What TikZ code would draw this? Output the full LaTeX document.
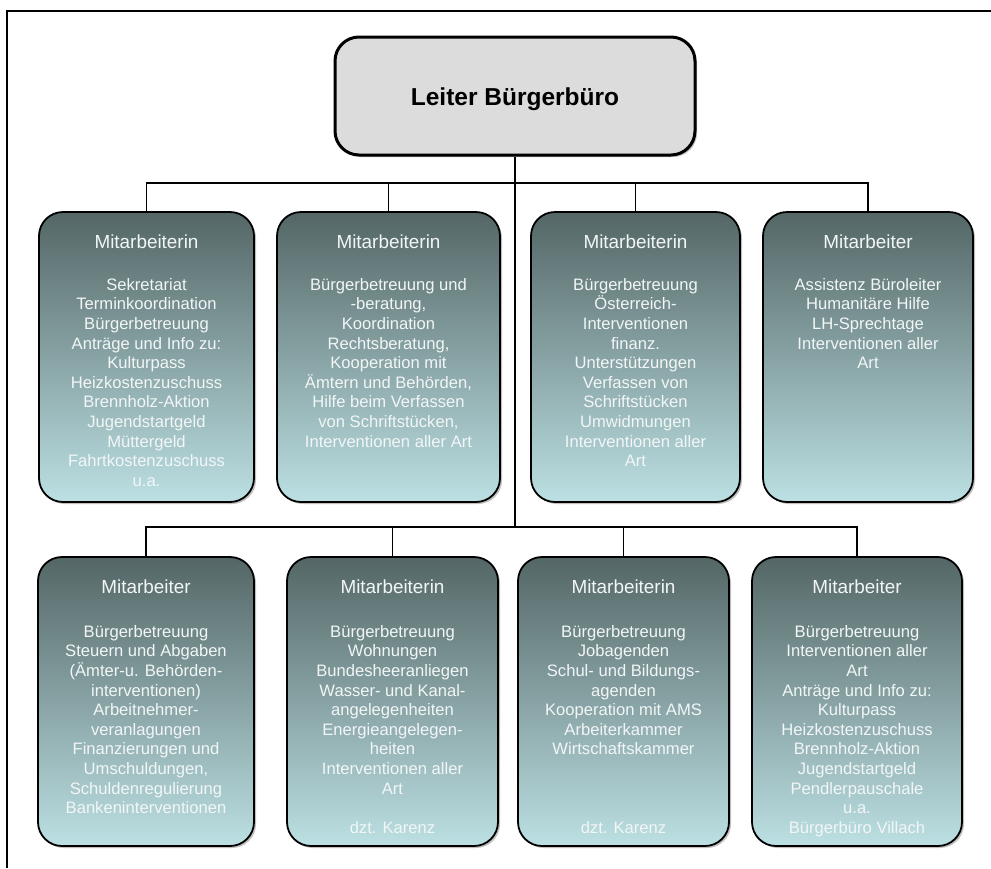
\documentclass[tikz,border=0pt]{standalone}
\usepackage{fontspec}
\setmainfont{Liberation Sans}
\usetikzlibrary{shadows}
\definecolor{boxtop}{RGB}{84,102,102}
\definecolor{boxbot}{RGB}{188,224,227}
\definecolor{topfill}{RGB}{220,220,220}
\definecolor{txt}{RGB}{242,246,246}
\tikzset{
  staffbox/.style={draw=black, line width=1.8pt, rounded corners=24pt,
    shading=axis, top color=boxtop, bottom color=boxbot,
    minimum height=289pt, inner sep=0pt,
    drop shadow={shadow xshift=2pt, shadow yshift=-2pt, opacity=0.25, fill=black}},
  headbox/.style={draw=black, line width=3pt, rounded corners=24pt, fill=topfill,
    minimum width=360pt, minimum height=118pt, inner sep=0pt,
    drop shadow={shadow xshift=2pt, shadow yshift=-2pt, opacity=0.25, fill=black}},
  role/.style={anchor=base, text=txt, inner sep=0pt, font=\fontsize{18.9}{22}\selectfont},
  duties/.style={anchor=north, text=txt, inner sep=0pt, align=center,
    font=\fontsize{16.6}{19.6}\selectfont, execute at begin node=\strut},
  conn/.style={draw=black, line width=1.8pt},
  frame/.style={draw=black, line width=1.8pt}
}
\begin{document}
\begin{tikzpicture}[x=1pt,y=-1pt]
\useasboundingbox (0,0) rectangle (991,868);
% frame (cropped: only top and left visible)
\coordinate (fa) at (7,868);
\coordinate (fb) at (7,11);
\coordinate (fc) at (991,11);
\draw[frame] (fa) -- (fb) -- (fc);

% head
\node[headbox] (head) at (515,96) {};
\node[anchor=base, inner sep=0pt, font=\fontsize{24.5}{28}\selectfont\bfseries] (headtxt) at (515,105.5) {Leiter Bürgerbüro};

% row 1 boxes
\node[staffbox, minimum width=215pt, minimum height=290pt] (b1) at (146.5,357) {};
\node[staffbox, minimum width=223pt, minimum height=290pt] (b2) at (388.5,357) {};
\node[staffbox, minimum width=209pt, minimum height=290pt] (b3) at (635.5,357) {};
\node[staffbox, minimum width=210pt, minimum height=290pt] (b4) at (868,357) {};
% row 2 boxes
\node[staffbox, minimum width=216pt] (c1) at (146,701.5) {};
\node[staffbox, minimum width=211pt] (c2) at (392.5,701.5) {};
\node[staffbox, minimum width=211pt] (c3) at (623.5,701.5) {};
\node[staffbox, minimum width=210pt] (c4) at (857,701.5) {};

% connectors
\coordinate (bus1) at (515,183);
\coordinate (bus2) at (515,527);
\draw[conn] (head.south) -- (bus2);
\draw[conn] (b1.north) -- (b1.north |- bus1) -- (b4.north |- bus1) -- (b4.north);
\draw[conn] (b2.north) -- (b2.north |- bus1);
\draw[conn] (b3.north) -- (b3.north |- bus1);
\draw[conn] (c1.north) -- (c1.north |- bus2) -- (c4.north |- bus2) -- (c4.north);
\draw[conn] (c2.north) -- (c2.north |- bus2);
\draw[conn] (c3.north) -- (c3.north |- bus2);

% row 1 texts
\node[role] (r1) at (146.5,248.5) {Mitarbeiterin};
\node[role] (r2) at (388.5,248.5) {Mitarbeiterin};
\node[role] (r3) at (635.5,248.5) {Mitarbeiterin};
\node[role] (r4) at (868,248.5) {Mitarbeiter};
\node[duties] (d1) at (146.5,278) {Sekretariat\\Terminkoordination\\Bürgerbetreuung\\Anträge und Info zu:\\Kulturpass\\Heizkostenzuschuss\\Brennholz-Aktion\\Jugendstartgeld\\Müttergeld\\Fahrtkostenzuschuss\\u.a.};
\node[duties] (d2) at (388.5,278) {Bürgerbetreuung und\\-beratung,\\Koordination\\Rechtsberatung,\\Kooperation mit\\Ämtern und Behörden,\\Hilfe beim Verfassen\\von Schriftstücken,\\Interventionen aller Art};
\node[duties] (d3) at (635.5,278) {Bürgerbetreuung\\Österreich-\\Interventionen\\finanz.\\Unterstützungen\\Verfassen von\\Schriftstücken\\Umwidmungen\\Interventionen aller\\Art};
\node[duties] (d4) at (868,278) {Assistenz Büroleiter\\Humanitäre Hilfe\\LH-Sprechtage\\Interventionen aller\\Art};

% row 2 texts
\node[role] (s1) at (146,593.5) {Mitarbeiter};
\node[role] (s2) at (392.5,593.5) {Mitarbeiterin};
\node[role] (s3) at (623.5,593.5) {Mitarbeiterin};
\node[role] (s4) at (857,593.5) {Mitarbeiter};
\node[duties] (e1) at (146,625) {Bürgerbetreuung\\Steuern und Abgaben\\(Ämter-u. Behörden-\\interventionen)\\Arbeitnehmer-\\veranlagungen\\Finanzierungen und\\Umschuldungen,\\Schuldenregulierung\\Bankeninterventionen};
\node[duties] (e2) at (392.5,625) {Bürgerbetreuung\\Wohnungen\\Bundesheeranliegen\\Wasser- und Kanal-\\angelegenheiten\\Energieangelegen-\\heiten\\Interventionen aller\\Art\\\mbox{}\\dzt. Karenz};
\node[duties] (e3) at (623.5,625) {Bürgerbetreuung\\Jobagenden\\Schul- und Bildungs-\\agenden\\Kooperation mit AMS\\Arbeiterkammer\\Wirtschaftskammer\\\mbox{}\\\mbox{}\\\mbox{}\\dzt. Karenz};
\node[duties] (e4) at (857,625) {Bürgerbetreuung\\Interventionen aller\\Art\\Anträge und Info zu:\\Kulturpass\\Heizkostenzuschuss\\Brennholz-Aktion\\Jugendstartgeld\\Pendlerpauschale\\u.a.\\Bürgerbüro Villach};
\end{tikzpicture}
\end{document}
